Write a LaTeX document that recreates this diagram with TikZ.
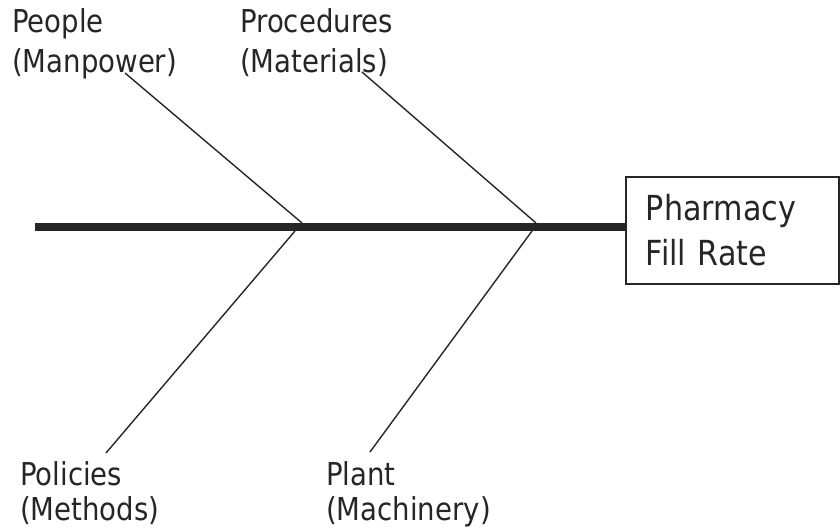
\documentclass[tikz,border=0pt]{standalone}
\usepackage{fontspec}
\setmainfont{DejaVu Sans}[FakeStretch=0.875]
\begin{document}
\begin{tikzpicture}[x=1pt,y=-1pt,
  lbl/.style={align=left, inner sep=0pt, anchor=base west, text=black!85},
  bone/.style={line width=1.4pt, black!85},
  spine/.style={line width=8pt, black!85},
  effect/.style={draw=black!85, line width=1.8pt, minimum width=213pt, minimum height=107pt,
                 anchor=north west, inner sep=0pt, align=left, text width=173pt, text=black!85,
                 font=\fontsize{34.5}{45}\selectfont}]
  \useasboundingbox (0,0) rectangle (840,529);

  % effect box at the head of the fish
  \node[effect] (head) at (625,176) {Pharmacy\\Fill Rate};

  % cause labels (anchored at the baseline of their last line)
  \node[lbl, font=\fontsize{31.5}{40}\selectfont] (people) at (12,73) {People\\(Manpower)};
  \node[lbl, font=\fontsize{31.5}{40}\selectfont] (proc) at (240,73) {Procedures\\(Materials)};
  \node[lbl, font=\fontsize{31.5}{35}\selectfont] (policies) at (20,520) {Policies\\(Methods)};
  \node[lbl, font=\fontsize{31.5}{35}\selectfont] (plant) at (326,520) {Plant\\(Machinery)};

  % bone end points
  \coordinate (tail) at (35,227);
  \coordinate (peopleEnd) at (125,73);
  \coordinate (procEnd) at (362,72);
  \coordinate (policiesEnd) at (106,453);
  \coordinate (plantEnd) at (370,452);
  \coordinate (jPeople) at (302,223);
  \coordinate (jProc) at (536,223);
  \coordinate (jPolicies) at (295,231);
  \coordinate (jPlant) at (532,231);

  % main spine
  \draw[spine] (tail) -- (tail -| head.west);

  % cause bones
  \draw[bone] (peopleEnd) -- (jPeople);
  \draw[bone] (procEnd) -- (jProc);
  \draw[bone] (policiesEnd) -- (jPolicies);
  \draw[bone] (plantEnd) -- (jPlant);
\end{tikzpicture}
\end{document}
